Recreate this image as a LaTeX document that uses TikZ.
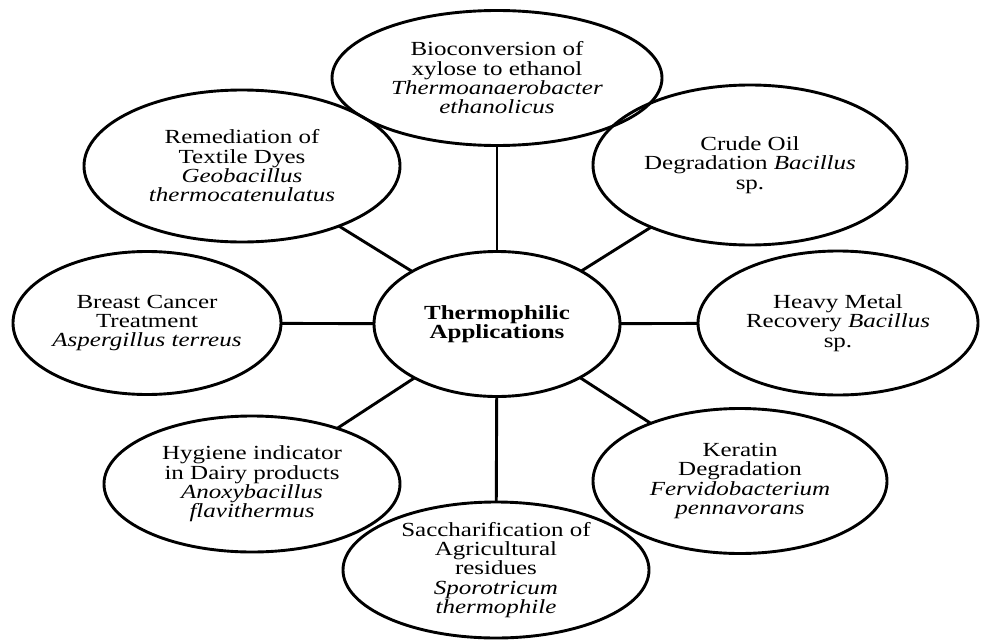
\documentclass[tikz,border=0pt]{standalone}
\usepackage{fontspec}
\setmainfont{Liberation Serif}[FakeStretch=1.25]
\usetikzlibrary{shapes.geometric}
\begin{document}
\begin{tikzpicture}[x=1pt,y=-1pt,
  bub/.style={ellipse,draw,line width=2.9pt,inner sep=0pt,outer sep=0pt,align=center,
    font=\fontsize{20}{19.3}\selectfont},
  link/.style={line width=2.9pt}]
\useasboundingbox (0,0) rectangle (982,642);
\node[bub,minimum width=246pt,minimum height=145pt,font=\fontsize{20}{19.3}\selectfont\bfseries] (c) at (497,324) {Thermophilic\\Applications};
\node[bub,minimum width=330pt,minimum height=135pt] (top) at (497,78) {Bioconversion of\\xylose to ethanol\\\textit{Thermoanaerobacter}\\\textit{ethanolicus}};
\node[bub,minimum width=316pt,minimum height=152pt] (rem) at (242,166) {Remediation of\\Textile Dyes\\\textit{Geobacillus}\\\textit{thermocatenulatus}};
\node[bub,minimum width=314pt,minimum height=160pt] (crude) at (750,165) {Crude Oil\\Degradation \textit{Bacillus}\\sp.};
\node[bub,minimum width=268pt,minimum height=143pt] (breast) at (147,323) {Breast Cancer\\Treatment\\\textit{Aspergillus terreus}};
\node[bub,minimum width=280pt,minimum height=144pt] (heavy) at (838,323) {Heavy Metal\\Recovery \textit{Bacillus}\\sp.};
\node[bub,minimum width=296pt,minimum height=136pt] (hyg) at (252,484) {Hygiene indicator\\in Dairy products\\\textit{Anoxybacillus}\\\textit{flavithermus}};
\node[bub,minimum width=294pt,minimum height=145pt] (ker) at (740,481) {Keratin\\Degradation\\\textit{Fervidobacterium}\\\textit{pennavorans}};
\node[bub,minimum width=306pt,minimum height=136pt] (sac) at (496,570) {Saccharification of\\Agricultural\\residues\\\textit{Sporotricum}\\\textit{thermophile}};
\foreach \n in {top,rem,crude,breast,heavy,hyg,ker,sac}
  \draw[link] (c) -- (\n);
\end{tikzpicture}
\end{document}
